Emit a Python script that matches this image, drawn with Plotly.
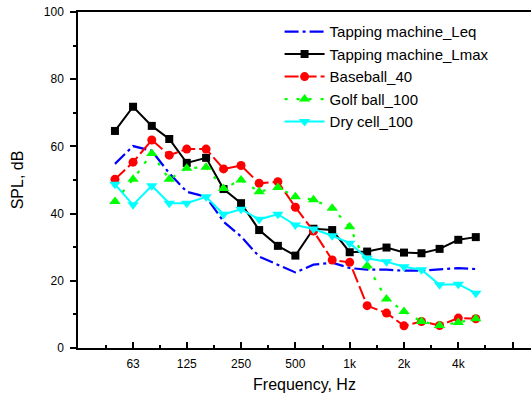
import math
import plotly.graph_objects as go

# One-third octave band centre frequencies (Hz)
freqs = [50, 63, 80, 100, 125, 160, 200, 250, 315, 400, 500, 630, 800,
         1000, 1250, 1600, 2000, 2500, 3150, 4000, 5000]

# Sound pressure levels per band (dB)
tapping_leq = [54.8, 60.1, 58.7, 52.0, 46.5, 45.0, 37.6, 33.2, 27.2, 24.7, 22.5,
               24.8, 25.4, 23.8, 23.3, 23.3, 23.0, 23.0, 23.3, 23.8, 23.5]
tapping_lmax = [64.6, 71.8, 66.1, 62.2, 55.1, 56.6, 47.3, 43.1, 35.1, 30.4, 27.5,
                35.5, 35.1, 28.5, 28.7, 29.9, 28.4, 28.2, 29.5, 32.2, 33.0]
baseball_40 = [50.2, 55.3, 61.9, 57.4, 59.2, 59.2, 53.3, 54.3, 49.0, 49.5, 41.9,
               34.8, 26.2, 25.5, 12.6, 10.4, 6.6, 7.9, 6.7, 8.9, 8.7]
golfball_100 = [43.6, 50.2, 57.9, 50.2, 53.5, 53.8, 47.5, 50.0, 46.5, 47.8, 45.0,
                44.1, 41.6, 36.1, 24.5, 14.6, 10.9, 7.9, 6.7, 7.6, 8.7]
drycell_100 = [48.7, 42.6, 48.3, 43.1, 43.1, 45.0, 39.8, 41.3, 38.3, 39.8, 36.6,
               35.4, 33.4, 31.2, 26.7, 25.7, 24.2, 23.3, 18.8, 19.0, 16.3]

# Octave tick marks
major_ticks = [31.5, 63, 125, 250, 500, 1000, 2000, 4000, 8000]
major_labels = ["", "63", "125", "250", "500", "1k", "2k", "4k", ""]
minor_ticks = [44.5, 89, 177, 354, 707, 1414, 2828, 5657]

FONT = "Arial, Liberation Sans, sans-serif"

fig = go.Figure()

fig.add_trace(go.Scatter(
    x=freqs, y=tapping_leq, name="Tapping machine_Leq", mode="lines",
    line=dict(color="#0000FF", width=2.2, dash="14px,4px,3px,4px")))
fig.add_trace(go.Scatter(
    x=freqs, y=tapping_lmax, name="Tapping machine_Lmax", mode="lines+markers",
    line=dict(color="#000000", width=2),
    marker=dict(symbol="square", size=8, color="#000000")))
fig.add_trace(go.Scatter(
    x=freqs, y=baseball_40, name="Baseball_40", mode="lines+markers",
    line=dict(color="#FF0000", width=2, dash="14px,4px"),
    marker=dict(symbol="circle", size=9, color="#FF0000")))
fig.add_trace(go.Scatter(
    x=freqs, y=golfball_100, name="Golf ball_100", mode="lines+markers",
    line=dict(color="#00FF00", width=2.2, dash="3px,9px"),
    marker=dict(symbol="triangle-up", size=10, color="#00FF00")))
fig.add_trace(go.Scatter(
    x=freqs, y=drycell_100, name="Dry cell_100", mode="lines+markers",
    line=dict(color="#00FFFF", width=2),
    marker=dict(symbol="triangle-down", size=10, color="#00FFFF")))

fig.update_layout(
    width=531, height=399,
    margin=dict(l=78, r=0, t=12, b=51),
    paper_bgcolor="white", plot_bgcolor="white",
    font=dict(family=FONT, color="black", size=12),
    legend=dict(
        x=0.445, y=0.99, xanchor="left", yanchor="top",
        bgcolor="rgba(0,0,0,0)", borderwidth=0,
        font=dict(family=FONT, size=15, color="black"),
        itemwidth=40,
    ),
)

fig.update_xaxes(
    type="log",
    range=[math.log10(31.2), 4.005],
    tickmode="array", tickvals=major_ticks, ticktext=major_labels,
    ticks="inside", ticklen=6, tickwidth=1.5, tickcolor="black",
    tickfont=dict(size=12, family=FONT), ticklabelstandoff=4,
    minor=dict(tickmode="array", tickvals=minor_ticks, ticks="inside",
               ticklen=3, tickwidth=1.5, tickcolor="black", showgrid=False),
    showline=True, linecolor="black", linewidth=1.5, mirror=True,
    showgrid=False, zeroline=False,
    title=dict(text="Frequency, Hz", font=dict(size=16, family=FONT), standoff=9),
)

fig.update_yaxes(
    range=[0, 100],
    tickmode="array", tickvals=[0, 20, 40, 60, 80, 100],
    ticks="outside", ticklen=6, tickwidth=1.5, tickcolor="black",
    tickfont=dict(size=12, family=FONT), ticklabelstandoff=4,
    minor=dict(tickmode="array", tickvals=[10, 30, 50, 70, 90], ticks="outside",
               ticklen=3, tickwidth=1.5, tickcolor="black", showgrid=False),
    showline=True, linecolor="black", linewidth=1.5,
    showgrid=False, zeroline=False,
    title=dict(text="SPL, dB", font=dict(size=16, family=FONT), standoff=16),
)

fig.write_html("out.html")
